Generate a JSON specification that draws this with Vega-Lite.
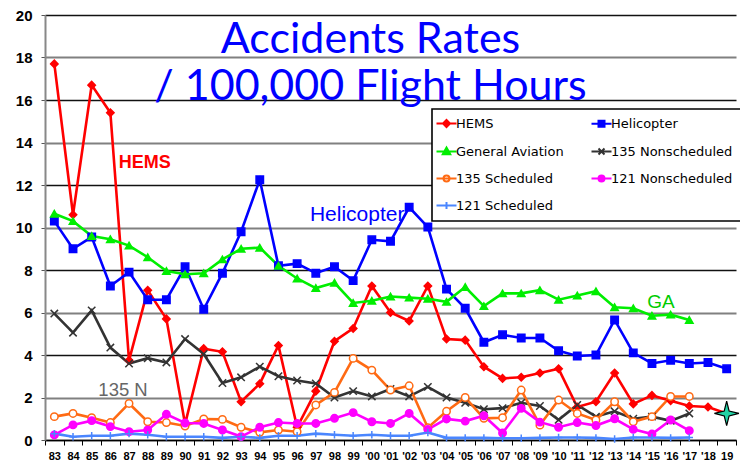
{
  "$schema": "https://vega.github.io/schema/vega-lite/v6.json",
  "width": 691,
  "height": 425,
  "autosize": {"type": "none"},
  "padding": {"left": 45, "top": 15, "right": 4, "bottom": 23},
  "background": "white",
  "config": {"view": {"stroke": null}},
  "title": {
    "text": ["Accidents Rates", "/ 100,000 Flight Hours"],
    "font": "Lato",
    "fontSize": 43,
    "fontWeight": "normal",
    "color": "#0000ff",
    "anchor": "middle",
    "frame": "group",
    "dx": -20,
    "offset": -101,
    "lineHeight": 47
  },
  "datasets": {
    "series": [
      {"s":"HEMS","x":"83","v":17.7},{"s":"HEMS","x":"84","v":10.6},{"s":"HEMS","x":"85","v":16.7},{"s":"HEMS","x":"86","v":15.4},{"s":"HEMS","x":"87","v":3.75},{"s":"HEMS","x":"88","v":7.05},{"s":"HEMS","x":"89","v":5.7},{"s":"HEMS","x":"90","v":0.75},{"s":"HEMS","x":"91","v":4.3},{"s":"HEMS","x":"92","v":4.15},{"s":"HEMS","x":"93","v":1.8},{"s":"HEMS","x":"94","v":2.65},{"s":"HEMS","x":"95","v":4.45},{"s":"HEMS","x":"96","v":0.6},{"s":"HEMS","x":"97","v":2.3},{"s":"HEMS","x":"98","v":4.65},{"s":"HEMS","x":"99","v":5.25},{"s":"HEMS","x":"'00","v":7.25},{"s":"HEMS","x":"'01","v":6.0},{"s":"HEMS","x":"'02","v":5.6},{"s":"HEMS","x":"'03","v":7.25},{"s":"HEMS","x":"'04","v":4.75},{"s":"HEMS","x":"'05","v":4.7},{"s":"HEMS","x":"'06","v":3.45},{"s":"HEMS","x":"'07","v":2.9},{"s":"HEMS","x":"'08","v":2.95},{"s":"HEMS","x":"'09","v":3.15},{"s":"HEMS","x":"'10","v":3.35},{"s":"HEMS","x":"'11","v":1.55},{"s":"HEMS","x":"'12","v":1.8},{"s":"HEMS","x":"'13","v":3.15},{"s":"HEMS","x":"'14","v":1.7},{"s":"HEMS","x":"'15","v":2.1},{"s":"HEMS","x":"'16","v":1.85},{"s":"HEMS","x":"'17","v":1.6},{"s":"HEMS","x":"'18","v":1.55},{"s":"HEMS","x":"19","v":1.25},
      {"s":"Helicopter","x":"83","v":10.3},{"s":"Helicopter","x":"84","v":9.0},{"s":"Helicopter","x":"85","v":9.55},{"s":"Helicopter","x":"86","v":7.25},{"s":"Helicopter","x":"87","v":7.9},{"s":"Helicopter","x":"88","v":6.6},{"s":"Helicopter","x":"89","v":6.6},{"s":"Helicopter","x":"90","v":8.15},{"s":"Helicopter","x":"91","v":6.15},{"s":"Helicopter","x":"92","v":7.85},{"s":"Helicopter","x":"93","v":9.8},{"s":"Helicopter","x":"94","v":12.25},{"s":"Helicopter","x":"95","v":8.2},{"s":"Helicopter","x":"96","v":8.3},{"s":"Helicopter","x":"97","v":7.85},{"s":"Helicopter","x":"98","v":8.15},{"s":"Helicopter","x":"99","v":7.5},{"s":"Helicopter","x":"'00","v":9.42},{"s":"Helicopter","x":"'01","v":9.35},{"s":"Helicopter","x":"'02","v":10.95},{"s":"Helicopter","x":"'03","v":10.02},{"s":"Helicopter","x":"'04","v":7.1},{"s":"Helicopter","x":"'05","v":6.2},{"s":"Helicopter","x":"'06","v":4.6},{"s":"Helicopter","x":"'07","v":4.95},{"s":"Helicopter","x":"'08","v":4.8},{"s":"Helicopter","x":"'09","v":4.8},{"s":"Helicopter","x":"'10","v":4.2},{"s":"Helicopter","x":"'11","v":3.95},{"s":"Helicopter","x":"'12","v":4.0},{"s":"Helicopter","x":"'13","v":5.65},{"s":"Helicopter","x":"'14","v":4.1},{"s":"Helicopter","x":"'15","v":3.6},{"s":"Helicopter","x":"'16","v":3.75},{"s":"Helicopter","x":"'17","v":3.6},{"s":"Helicopter","x":"'18","v":3.65},{"s":"Helicopter","x":"19","v":3.35},
      {"s":"General Aviation","x":"83","v":10.65},{"s":"General Aviation","x":"84","v":10.3},{"s":"General Aviation","x":"85","v":9.6},{"s":"General Aviation","x":"86","v":9.45},{"s":"General Aviation","x":"87","v":9.15},{"s":"General Aviation","x":"88","v":8.6},{"s":"General Aviation","x":"89","v":7.95},{"s":"General Aviation","x":"90","v":7.8},{"s":"General Aviation","x":"91","v":7.85},{"s":"General Aviation","x":"92","v":8.5},{"s":"General Aviation","x":"93","v":9.0},{"s":"General Aviation","x":"94","v":9.05},{"s":"General Aviation","x":"95","v":8.2},{"s":"General Aviation","x":"96","v":7.6},{"s":"General Aviation","x":"97","v":7.15},{"s":"General Aviation","x":"98","v":7.4},{"s":"General Aviation","x":"99","v":6.45},{"s":"General Aviation","x":"'00","v":6.55},{"s":"General Aviation","x":"'01","v":6.75},{"s":"General Aviation","x":"'02","v":6.7},{"s":"General Aviation","x":"'03","v":6.65},{"s":"General Aviation","x":"'04","v":6.5},{"s":"General Aviation","x":"'05","v":7.2},{"s":"General Aviation","x":"'06","v":6.3},{"s":"General Aviation","x":"'07","v":6.9},{"s":"General Aviation","x":"'08","v":6.9},{"s":"General Aviation","x":"'09","v":7.05},{"s":"General Aviation","x":"'10","v":6.6},{"s":"General Aviation","x":"'11","v":6.8},{"s":"General Aviation","x":"'12","v":7.0},{"s":"General Aviation","x":"'13","v":6.25},{"s":"General Aviation","x":"'14","v":6.2},{"s":"General Aviation","x":"'15","v":5.85},{"s":"General Aviation","x":"'16","v":5.9},{"s":"General Aviation","x":"'17","v":5.65},
      {"s":"135 Nonscheduled","x":"83","v":5.95},{"s":"135 Nonscheduled","x":"84","v":5.05},{"s":"135 Nonscheduled","x":"85","v":6.1},{"s":"135 Nonscheduled","x":"86","v":4.35},{"s":"135 Nonscheduled","x":"87","v":3.6},{"s":"135 Nonscheduled","x":"88","v":3.85},{"s":"135 Nonscheduled","x":"89","v":3.65},{"s":"135 Nonscheduled","x":"90","v":4.75},{"s":"135 Nonscheduled","x":"91","v":4.05},{"s":"135 Nonscheduled","x":"92","v":2.68},{"s":"135 Nonscheduled","x":"93","v":2.95},{"s":"135 Nonscheduled","x":"94","v":3.45},{"s":"135 Nonscheduled","x":"95","v":3.0},{"s":"135 Nonscheduled","x":"96","v":2.8},{"s":"135 Nonscheduled","x":"97","v":2.66},{"s":"135 Nonscheduled","x":"98","v":2.0},{"s":"135 Nonscheduled","x":"99","v":2.3},{"s":"135 Nonscheduled","x":"'00","v":2.05},{"s":"135 Nonscheduled","x":"'01","v":2.4},{"s":"135 Nonscheduled","x":"'02","v":2.05},{"s":"135 Nonscheduled","x":"'03","v":2.5},{"s":"135 Nonscheduled","x":"'04","v":2.0},{"s":"135 Nonscheduled","x":"'05","v":1.75},{"s":"135 Nonscheduled","x":"'06","v":1.45},{"s":"135 Nonscheduled","x":"'07","v":1.5},{"s":"135 Nonscheduled","x":"'08","v":1.75},{"s":"135 Nonscheduled","x":"'09","v":1.6},{"s":"135 Nonscheduled","x":"'10","v":0.95},{"s":"135 Nonscheduled","x":"'11","v":1.65},{"s":"135 Nonscheduled","x":"'12","v":1.1},{"s":"135 Nonscheduled","x":"'13","v":1.35},{"s":"135 Nonscheduled","x":"'14","v":1.0},{"s":"135 Nonscheduled","x":"'15","v":1.1},{"s":"135 Nonscheduled","x":"'16","v":0.9},{"s":"135 Nonscheduled","x":"'17","v":1.25},
      {"s":"135 Scheduled","x":"83","v":1.1},{"s":"135 Scheduled","x":"84","v":1.25},{"s":"135 Scheduled","x":"85","v":1.05},{"s":"135 Scheduled","x":"86","v":0.82},{"s":"135 Scheduled","x":"87","v":1.72},{"s":"135 Scheduled","x":"88","v":0.86},{"s":"135 Scheduled","x":"89","v":0.82},{"s":"135 Scheduled","x":"90","v":0.66},{"s":"135 Scheduled","x":"91","v":0.99},{"s":"135 Scheduled","x":"92","v":0.97},{"s":"135 Scheduled","x":"93","v":0.6},{"s":"135 Scheduled","x":"94","v":0.36},{"s":"135 Scheduled","x":"95","v":0.47},{"s":"135 Scheduled","x":"96","v":0.39},{"s":"135 Scheduled","x":"97","v":1.65},{"s":"135 Scheduled","x":"98","v":2.24},{"s":"135 Scheduled","x":"99","v":3.84},{"s":"135 Scheduled","x":"'00","v":3.29},{"s":"135 Scheduled","x":"'01","v":2.35},{"s":"135 Scheduled","x":"'02","v":2.55},{"s":"135 Scheduled","x":"'03","v":0.58},{"s":"135 Scheduled","x":"'04","v":1.35},{"s":"135 Scheduled","x":"'05","v":2.0},{"s":"135 Scheduled","x":"'06","v":1.02},{"s":"135 Scheduled","x":"'07","v":1.05},{"s":"135 Scheduled","x":"'08","v":2.35},{"s":"135 Scheduled","x":"'09","v":0.7},{"s":"135 Scheduled","x":"'10","v":1.88},{"s":"135 Scheduled","x":"'11","v":1.25},{"s":"135 Scheduled","x":"'12","v":0.94},{"s":"135 Scheduled","x":"'13","v":1.8},{"s":"135 Scheduled","x":"'14","v":0.86},{"s":"135 Scheduled","x":"'15","v":1.1},{"s":"135 Scheduled","x":"'16","v":2.05},{"s":"135 Scheduled","x":"'17","v":2.05},
      {"s":"121 Nonscheduled","x":"83","v":0.24},{"s":"121 Nonscheduled","x":"84","v":0.71},{"s":"121 Nonscheduled","x":"85","v":0.91},{"s":"121 Nonscheduled","x":"86","v":0.63},{"s":"121 Nonscheduled","x":"87","v":0.39},{"s":"121 Nonscheduled","x":"88","v":0.47},{"s":"121 Nonscheduled","x":"89","v":1.21},{"s":"121 Nonscheduled","x":"90","v":0.8},{"s":"121 Nonscheduled","x":"91","v":0.78},{"s":"121 Nonscheduled","x":"92","v":0.47},{"s":"121 Nonscheduled","x":"93","v":0.16},{"s":"121 Nonscheduled","x":"94","v":0.6},{"s":"121 Nonscheduled","x":"95","v":0.82},{"s":"121 Nonscheduled","x":"96","v":0.78},{"s":"121 Nonscheduled","x":"97","v":0.78},{"s":"121 Nonscheduled","x":"98","v":1.02},{"s":"121 Nonscheduled","x":"99","v":1.29},{"s":"121 Nonscheduled","x":"'00","v":0.86},{"s":"121 Nonscheduled","x":"'01","v":0.78},{"s":"121 Nonscheduled","x":"'02","v":1.25},{"s":"121 Nonscheduled","x":"'03","v":0.5},{"s":"121 Nonscheduled","x":"'04","v":0.99},{"s":"121 Nonscheduled","x":"'05","v":0.89},{"s":"121 Nonscheduled","x":"'06","v":1.14},{"s":"121 Nonscheduled","x":"'07","v":0.33},{"s":"121 Nonscheduled","x":"'08","v":1.49},{"s":"121 Nonscheduled","x":"'09","v":0.84},{"s":"121 Nonscheduled","x":"'10","v":0.6},{"s":"121 Nonscheduled","x":"'11","v":0.82},{"s":"121 Nonscheduled","x":"'12","v":0.68},{"s":"121 Nonscheduled","x":"'13","v":1.0},{"s":"121 Nonscheduled","x":"'14","v":0.5},{"s":"121 Nonscheduled","x":"'15","v":0.28},{"s":"121 Nonscheduled","x":"'16","v":0.94},{"s":"121 Nonscheduled","x":"'17","v":0.44},
      {"s":"121 Scheduled","x":"83","v":0.3},{"s":"121 Scheduled","x":"84","v":0.15},{"s":"121 Scheduled","x":"85","v":0.2},{"s":"121 Scheduled","x":"86","v":0.2},{"s":"121 Scheduled","x":"87","v":0.3},{"s":"121 Scheduled","x":"88","v":0.25},{"s":"121 Scheduled","x":"89","v":0.15},{"s":"121 Scheduled","x":"90","v":0.15},{"s":"121 Scheduled","x":"91","v":0.15},{"s":"121 Scheduled","x":"92","v":0.1},{"s":"121 Scheduled","x":"93","v":0.15},{"s":"121 Scheduled","x":"94","v":0.1},{"s":"121 Scheduled","x":"95","v":0.2},{"s":"121 Scheduled","x":"96","v":0.2},{"s":"121 Scheduled","x":"97","v":0.3},{"s":"121 Scheduled","x":"98","v":0.25},{"s":"121 Scheduled","x":"99","v":0.2},{"s":"121 Scheduled","x":"'00","v":0.25},{"s":"121 Scheduled","x":"'01","v":0.2},{"s":"121 Scheduled","x":"'02","v":0.2},{"s":"121 Scheduled","x":"'03","v":0.35},{"s":"121 Scheduled","x":"'04","v":0.1},{"s":"121 Scheduled","x":"'05","v":0.1},{"s":"121 Scheduled","x":"'06","v":0.1},{"s":"121 Scheduled","x":"'07","v":0.08},{"s":"121 Scheduled","x":"'08","v":0.08},{"s":"121 Scheduled","x":"'09","v":0.1},{"s":"121 Scheduled","x":"'10","v":0.12},{"s":"121 Scheduled","x":"'11","v":0.12},{"s":"121 Scheduled","x":"'12","v":0.1},{"s":"121 Scheduled","x":"'13","v":0.05},{"s":"121 Scheduled","x":"'14","v":0.12},{"s":"121 Scheduled","x":"'15","v":0.12},{"s":"121 Scheduled","x":"'16","v":0.1},{"s":"121 Scheduled","x":"'17","v":0.12}
    ],
    "star": [{"x": "19", "v": 1.25}]
  },
  "encoding": {
    "x": {
      "field": "x",
      "type": "ordinal",
      "scale": {
        "type": "band",
        "paddingInner": 0,
        "paddingOuter": 0,
        "domain": ["83","84","85","86","87","88","89","90","91","92","93","94","95","96","97","98","99","'00","'01","'02","'03","'04","'05","'06","'07","'08","'09","'10","'11","'12","'13","'14","'15","'16","'17","'18","19"]
      },
      "axis": {
        "title": null,
        "labelAngle": 0,
        "labelFont": "Liberation Sans",
        "labelFontWeight": "bold",
        "labelFontSize": 11,
        "labelColor": "black",
        "labelPadding": 5,
        "tickBand": "extent",
        "tickColor": "black",
        "tickSize": 5,
        "tickWidth": 1,
        "domainColor": "black",
        "domainWidth": 1.5,
        "grid": false
      }
    },
    "y": {
      "field": "v",
      "type": "quantitative",
      "scale": {"domain": [0, 20], "nice": false},
      "axis": {
        "title": null,
        "values": [0, 2, 4, 6, 8, 10, 12, 14, 16, 18, 20],
        "labelFont": "Liberation Sans",
        "labelFontWeight": "bold",
        "labelFontSize": 15,
        "labelColor": "black",
        "labelPadding": 9,
        "tickSize": 4,
        "tickColor": "#555555",
        "domainColor": "#888888",
        "domainWidth": 2,
        "grid": true,
        "gridColor": {"condition": {"test": "datum.value % 4 === 0", "value": "#111111"}, "value": "#808080"},
        "gridWidth": {"condition": {"test": "datum.value % 4 === 0", "value": 1.3}, "value": 2},
        "gridOpacity": 1
      }
    }
  },
  "layer": [
    {
      "data": {"name": "series"},
      "mark": {"type": "line", "strokeWidth": 2.6},
      "encoding": {
        "color": {
          "field": "s",
          "type": "nominal",
          "scale": {
            "domain": ["HEMS", "General Aviation", "135 Scheduled", "121 Scheduled", "Helicopter", "135 Nonscheduled", "121 Nonscheduled"],
            "range": ["#ff0000", "#00ee00", "#ff6a13", "#4a86ff", "#0000ff", "#333333", "#ff00ff"]
          },
          "legend": {
            "title": null,
            "orient": "none",
            "direction": "vertical",
            "legendX": 387,
            "legendY": 94,
            "columns": 2,
            "labelFont": "DejaVu Sans",
            "labelFontSize": 13,
            "labelColor": "black",
            "padding": 8,
            "strokeColor": "black",
            "fillColor": "white",
            "symbolSize": 100,
            "symbolOffset": 0,
            "labelOffset": 3,
            "rowPadding": 12,
            "columnPadding": 23,
            "symbolStrokeWidth": 2,
            "encode": {
              "legend": {"update": {"strokeWidth": {"value": 1.6}}},
              "symbols": {
                "update": {
                  "shape": {"signal": "datum.value === 'HEMS' ? 'M-2,0H2M0,-0.7L0.7,0L0,0.7L-0.7,0Z' : datum.value === 'Helicopter' ? 'M-2,0H2M-0.6,-0.6H0.6V0.6H-0.6Z' : datum.value === 'General Aviation' ? 'M-2,0H2M0,-0.8L0.75,0.55H-0.75Z' : datum.value === '135 Nonscheduled' ? 'M-2,0H2M-0.6,-0.6L0.6,0.6M-0.6,0.6L0.6,-0.6' : datum.value === '121 Scheduled' ? 'M-2,0H2M0,-0.7V0.7' : 'M-2,0H2M-0.6,0A0.6,0.6,0,1,0,0.6,0A0.6,0.6,0,1,0,-0.6,0Z'"},
                  "fill": {"signal": "datum.value === '135 Scheduled' ? '#ffffff' : scale('color', datum.value)"},
                  "strokeWidth": {"value": 2},
                  "opacity": {"value": 1}
                }
              }
            }
          }
        }
      }
    },
    {
      "data": {"name": "series"},
      "mark": {"type": "point", "filled": false, "size": 55, "strokeWidth": 1.5, "opacity": 1},
      "encoding": {
        "color": {"field": "s", "type": "nominal"},
        "fill": {
          "condition": [
            {"test": "datum.s === 'HEMS'", "value": "#ff0000"},
            {"test": "datum.s === 'Helicopter'", "value": "#0000ff"},
            {"test": "datum.s === 'General Aviation'", "value": "#00ee00"},
            {"test": "datum.s === '121 Nonscheduled'", "value": "#ff00ff"}
          ],
          "value": "#ffffff"
        },
        "shape": {
          "condition": [
            {"test": "datum.s === 'HEMS'", "value": "diamond"},
            {"test": "datum.s === 'Helicopter'", "value": "square"},
            {"test": "datum.s === 'General Aviation'", "value": "triangle-up"},
            {"test": "datum.s === '135 Nonscheduled'", "value": "M-1,-1L1,1M-1,1L1,-1"},
            {"test": "datum.s === '121 Scheduled'", "value": "M-1,0H1M0,-1V1"}
          ],
          "value": "circle"
        }
      }
    },
    {
      "data": {"values": [{"label": "HEMS", "x": "88", "v": 13.05}]},
      "mark": {"type": "text", "font": "Liberation Sans", "fontWeight": "bold", "fontSize": 18, "color": "#ff0000", "dx": -3, "baseline": "middle", "align": "center"},
      "encoding": {"text": {"field": "label"}}
    },
    {
      "data": {"values": [{"label": "Helicopter", "x": "99", "v": 10.6}]},
      "mark": {"type": "text", "font": "Liberation Sans", "fontSize": 21, "color": "#0000ff", "dx": 4, "baseline": "middle", "align": "center"},
      "encoding": {"text": {"field": "label"}}
    },
    {
      "data": {"values": [{"label": "135 N", "x": "87", "v": 2.33}]},
      "mark": {"type": "text", "font": "Liberation Sans", "fontSize": 18.5, "color": "#666666", "dx": -6, "baseline": "middle", "align": "center"},
      "encoding": {"text": {"field": "label"}}
    },
    {
      "data": {"values": [{"label": "GA", "x": "'15", "v": 6.5}]},
      "mark": {"type": "text", "font": "Liberation Sans", "fontSize": 19, "color": "#00cc00", "dx": 9, "baseline": "middle", "align": "center"},
      "encoding": {"text": {"field": "label"}}
    },
    {
      "data": {"name": "star"},
      "mark": {"type": "point", "shape": "M0,-1L0.2,-0.2L1,0L0.2,0.2L0,1L-0.2,0.2L-1,0L-0.2,-0.2Z", "size": 600, "filled": true, "fill": "#22d3a5", "stroke": "#000000", "strokeWidth": 1.2, "opacity": 1}
    }
  ]
}
